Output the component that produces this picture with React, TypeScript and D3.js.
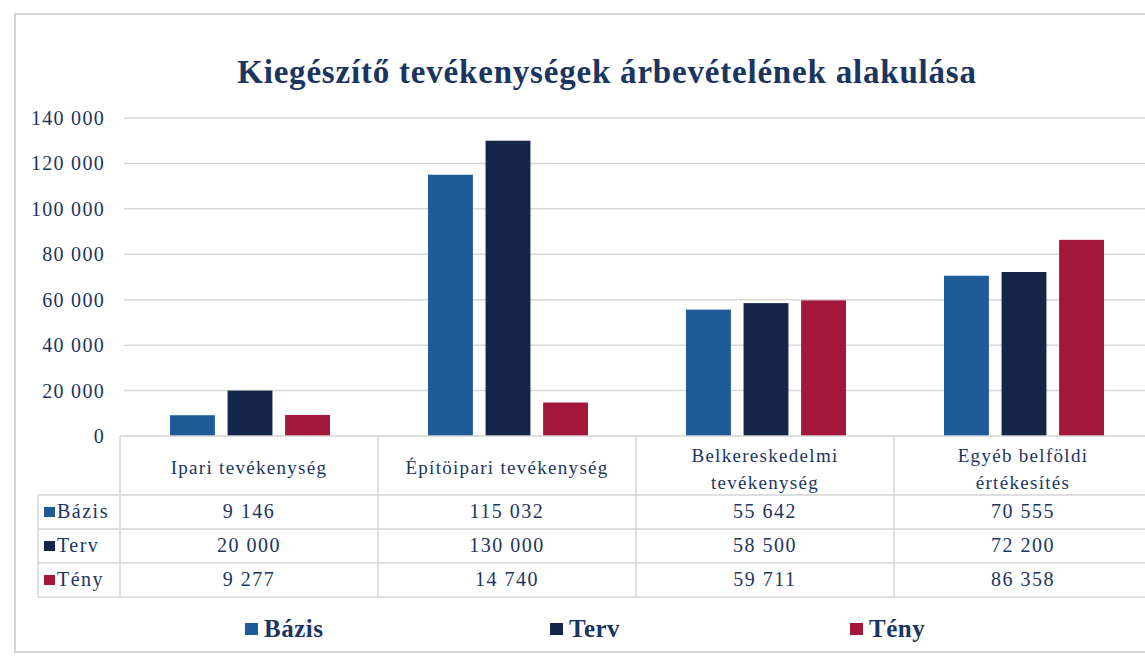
import React from "react";
import * as d3 from "d3";

const title = "Kiegészítő tevékenységek árbevételének alakulása";
const categories: string[][] = [
  ["Ipari tevékenység"],
  ["Építöipari tevékenység"],
  ["Belkereskedelmi", "tevékenység"],
  ["Egyéb belföldi", "értékesítés"],
];
const seriesNames = ["Bázis", "Terv", "Tény"];
const bazis = [9146, 115032, 55642, 70555];
const terv = [20000, 130000, 58500, 72200];
const teny = [9277, 14740, 59711, 86358];
const yTicks = [0, 20000, 40000, 60000, 80000, 100000, 120000, 140000];
const colors = ["#1f5b99", "#15264a", "#a3173a"];

const fmt = (v: number) => d3.format(",")(v).replace(/,/g, " ");

export default function App() {
  const W = 1145, H = 661;
  const plotLeft = 120, plotRight = 1152;
  const y0 = 436, yTop = 118;
  const values = [bazis, terv, teny];
  const x = d3.scaleBand<number>().domain(d3.range(categories.length)).range([plotLeft, plotRight]);
  const xs = d3.scaleBand<string>().domain(seriesNames).range([50, 210]).paddingInner(0.22);
  const y = d3.scaleLinear().domain([0, 140000]).range([y0, yTop]);
  const rowLines = [495, 529, 563, 597];
  const textColor = "#1b3561";
  const font = "'Liberation Serif', 'Times New Roman', serif";
  const legendX = [245, 550, 850];
  return (
    <svg width={W} height={H} style={{ position: "absolute", left: 0, top: 0, background: "#fff" }} fontFamily={font}>
      <rect x={15} y={14} width={W + 20} height={638} fill="#fff" stroke="#d4d4d4" strokeWidth={2} />
      <text x={607} y={83} textAnchor="middle" fontSize={33} letterSpacing={0.8} fontWeight="bold" fill={textColor}>{title}</text>
      {yTicks.map((t) => (
        <g key={t}>
          {t > 0 && <line x1={plotLeft + 4} x2={W} y1={y(t)} y2={y(t)} stroke="#d9d9d9" strokeWidth={1.5} />}
          <text x={105} y={y(t) + 7} textAnchor="end" fontSize={20} letterSpacing={1.3} fill={textColor}>{fmt(t)}</text>
        </g>
      ))}
      {values.map((vals, si) =>
        vals.map((v, ci) => (
          <rect key={`${si}-${ci}`} x={(x(ci) as number) + (xs(seriesNames[si]) as number)} y={y(v)}
            width={xs.bandwidth()} height={y0 - y(v)} fill={colors[si]} />
        ))
      )}
      {/* table */}
      <line x1={plotLeft} x2={W} y1={y0} y2={y0} stroke="#d4d4d4" strokeWidth={1.5} />
      {rowLines.map((ry) => (
        <line key={ry} x1={38} x2={W} y1={ry} y2={ry} stroke="#d4d4d4" strokeWidth={1.5} />
      ))}
      <line x1={38} x2={38} y1={495} y2={597} stroke="#d4d4d4" strokeWidth={1.5} />
      {d3.range(categories.length).map((ci) => (
        <line key={ci} x1={x(ci) as number} x2={x(ci) as number} y1={y0} y2={597} stroke="#d4d4d4" strokeWidth={1.5} />
      ))}
      {categories.map((lines, ci) => {
        const cx = (x(ci) as number) + x.bandwidth() / 2;
        const startY = lines.length === 1 ? 474 : 462;
        return (
          <text key={ci} x={cx} textAnchor="middle" fontSize={19} letterSpacing={1.3} fill={textColor}>
            {lines.map((l, li) => (
              <tspan key={li} x={cx} y={startY + li * 27}>{l}</tspan>
            ))}
          </text>
        );
      })}
      {seriesNames.map((s, si) => {
        const ry = rowLines[si];
        const cy = (ry + rowLines[si + 1]) / 2;
        return (
          <g key={s}>
            <rect x={44} y={cy - 5} width={11} height={10} fill={colors[si]} />
            <text x={57} y={cy + 6} fontSize={20} letterSpacing={1.5} fill={textColor}>{s}</text>
            {values[si].map((v, ci) => (
              <text key={ci} x={(x(ci) as number) + x.bandwidth() / 2} y={cy + 6} textAnchor="middle" fontSize={20} letterSpacing={1.5} fill={textColor}>{fmt(v)}</text>
            ))}
          </g>
        );
      })}
      {/* legend */}
      {seriesNames.map((s, si) => (
        <g key={s}>
          <rect x={legendX[si]} y={623} width={13} height={12} fill={colors[si]} />
          <text x={legendX[si] + 19} y={637} fontSize={25} letterSpacing={0.5} fontWeight="bold" fill={textColor}>{s}</text>
        </g>
      ))}
    </svg>
  );
}
